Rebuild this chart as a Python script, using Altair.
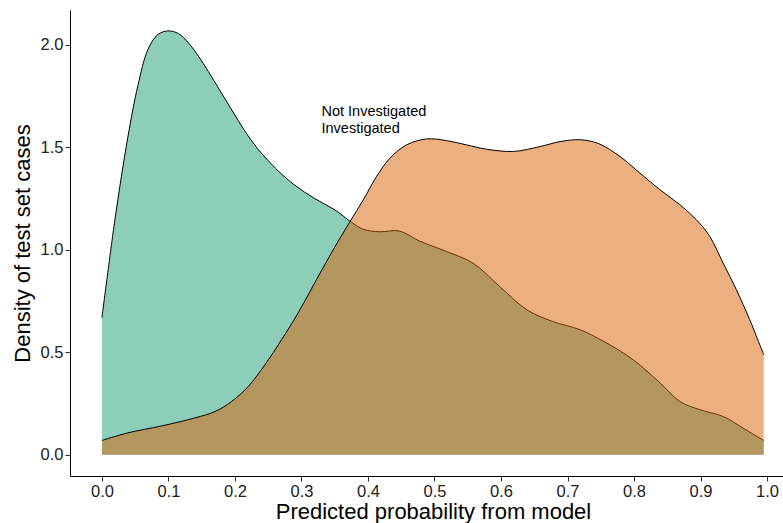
import altair as alt
import pandas as pd

# Not Investigated density (teal)
ni_x = [0.0, 0.0195, 0.039, 0.054, 0.069, 0.084, 0.099, 0.115, 0.13, 0.145, 0.16,
        0.175, 0.19, 0.205, 0.22, 0.235, 0.25, 0.265, 0.29, 0.32, 0.35, 0.375,
        0.393, 0.418, 0.447, 0.478, 0.518, 0.558, 0.598, 0.639, 0.678, 0.719,
        0.759, 0.799, 0.839, 0.869, 0.899, 0.934, 0.964, 0.995]
ni_y = [0.668, 1.146, 1.55, 1.80, 1.976, 2.05, 2.068, 2.055, 2.01, 1.945, 1.87,
        1.79, 1.71, 1.63, 1.555, 1.49, 1.435, 1.385, 1.315, 1.25, 1.195, 1.135,
        1.10, 1.088, 1.092, 1.042, 0.992, 0.935, 0.821, 0.707, 0.650, 0.610,
        0.545, 0.463, 0.351, 0.26, 0.22, 0.187, 0.13, 0.07]

# Investigated density (orange)
inv_x = [0.0, 0.039, 0.09, 0.14, 0.17, 0.195, 0.22, 0.245, 0.27, 0.295, 0.32,
         0.345, 0.373, 0.393, 0.413, 0.433, 0.458, 0.488, 0.518, 0.548, 0.578,
         0.619, 0.659, 0.689, 0.719, 0.747, 0.779, 0.809, 0.839, 0.869, 0.894,
         0.914, 0.934, 0.954, 0.974, 0.995]
inv_y = [0.07, 0.107, 0.141, 0.18, 0.211, 0.26, 0.333, 0.439, 0.561, 0.692, 0.839,
         0.985, 1.138, 1.244, 1.358, 1.447, 1.512, 1.541, 1.533, 1.512, 1.491,
         1.48, 1.504, 1.528, 1.537, 1.518, 1.455, 1.374, 1.293, 1.22, 1.146,
         1.065, 0.935, 0.805, 0.659, 0.488]

groups = ["Not Investigated", "Investigated"]
fills = ["#1b9e77", "#d95f02"]
x_ticks = [0.0, 0.1, 0.2, 0.3, 0.4, 0.5, 0.6, 0.7, 0.8, 0.9, 1.0]
y_ticks = [0.0, 0.5, 1.0, 1.5, 2.0]

df = pd.concat([
    pd.DataFrame({"p": ni_x, "density": ni_y, "group": groups[0]}),
    pd.DataFrame({"p": inv_x, "density": inv_y, "group": groups[1]}),
], ignore_index=True)

base = alt.Chart(df)

xenc = alt.X(
    "p:Q",
    scale=alt.Scale(domain=[-0.048, 1.024], nice=False, zero=False),
    axis=alt.Axis(values=x_ticks, format=".1f", title="Predicted probability from model",
                  grid=False, titleX=363, titleY=35, titleBaseline="middle",
                  titleAlign="center", labelPadding=2),
)
yenc = alt.Y(
    "density:Q",
    scale=alt.Scale(domain=[-0.1035, 2.17], nice=False, zero=False),
    axis=alt.Axis(values=y_ticks, format=".1f", title="Density of test set cases",
                  grid=False, titleX=-48, titleY=233, titleAngle=270,
                  titleBaseline="middle", titleAlign="center", labelPadding=2),
)
color = alt.Color(
    "group:N",
    scale=alt.Scale(domain=groups, range=fills),
    title=None,
    legend=alt.Legend(orient="none", legendX=237, legendY=95, symbolSize=0,
                      symbolStrokeWidth=0, symbolOpacity=0, labelFontSize=14.5,
                      labelColor="black", labelOffset=0, rowPadding=1.5),
)


def area(g):
    return base.transform_filter(alt.datum.group == g).mark_area(
        opacity=0.5, interpolate="catmull-rom"
    ).encode(x=xenc, y=yenc, y2=alt.datum(0), color=color)


def line(g):
    return base.transform_filter(alt.datum.group == g).mark_line(
        color="black", strokeWidth=1, interpolate="catmull-rom"
    ).encode(x=xenc, y=yenc)


chart = alt.layer(
    area(groups[0]), line(groups[0]), area(groups[1]), line(groups[1])
).properties(
    width=713, height=466,
    padding={"left": 70, "top": 10, "right": 0, "bottom": 47},
    autosize=alt.AutoSizeParams(type="none"),
).configure(
    font="Liberation Sans",
).configure_view(
    stroke=None,
).configure_axis(
    domainColor="black", domainWidth=1, tickColor="#333333", tickSize=5,
    labelFontSize=16.5, labelColor="#222222", titleFontSize=22,
    titleFontWeight="normal", titleColor="black",
)

chart.save("out.html", embed_options={"renderer": "svg", "actions": False})
